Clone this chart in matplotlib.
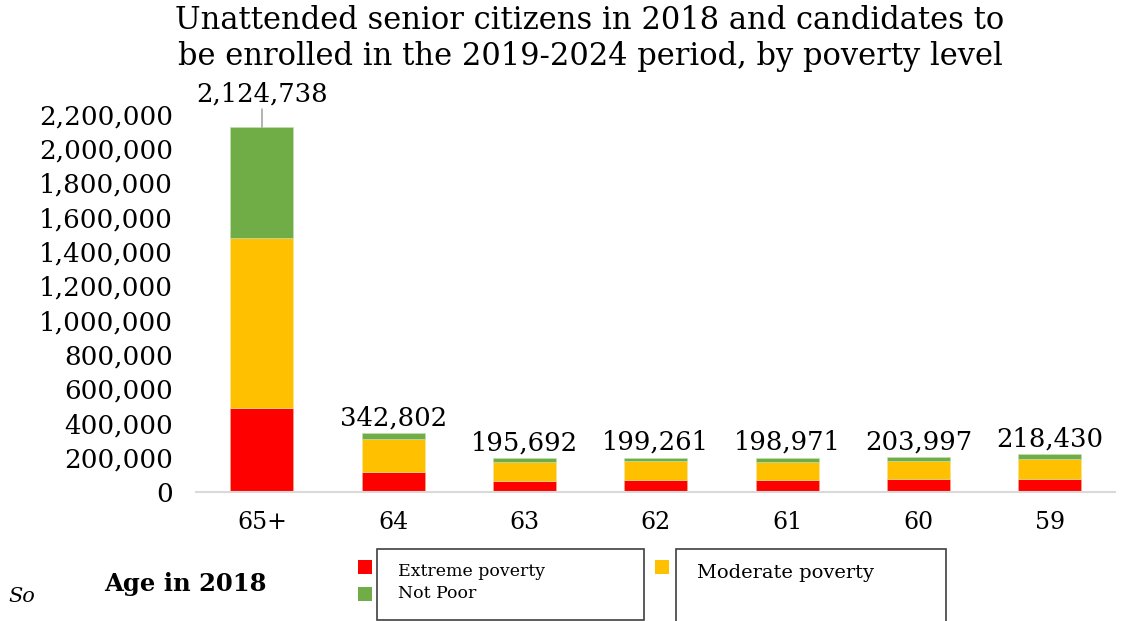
import numpy as np
import matplotlib.pyplot as plt
from matplotlib.patches import Rectangle

# values
ages = ['65+', '64', '63', '62', '61', '60', '59']
extreme = [489000, 116000, 66000, 68000, 67000, 72000, 76000]
moderate = [989000, 191000, 107000, 110000, 109000, 109000, 117000]
not_poor = [646738, 35802, 22692, 21261, 22971, 22997, 25430]
totals = [2124738, 342802, 195692, 199261, 198971, 203997, 218430]

plt.rcParams['font.family'] = 'DejaVu Serif'

fig = plt.figure(figsize=(11.22, 6.21), dpi=100)
ax = fig.add_axes([0.175, 0.208, 0.819, 0.608])

x = np.arange(len(ages))
w = 0.48
ext = np.array(extreme)
mod = np.array(moderate)
npo = np.array(not_poor)
ax.bar(x, ext, w, color='#FF0000', edgecolor='#f4b183', linewidth=0.4)
ax.bar(x, mod, w, bottom=ext, color='#FFC000', edgecolor='#f4e3a0', linewidth=0.4)
ax.bar(x, npo, w, bottom=ext + mod, color='#70AD47', edgecolor='#c5e0b4', linewidth=0.4)

ax.set_xlim(-0.5, len(ages) - 0.5)
ax.set_ylim(0, 2200000)
ax.set_yticks(np.arange(0, 2200001, 200000))
ax.yaxis.set_major_formatter(plt.FuncFormatter(lambda v, p: f'{int(v):,}'))
ax.set_xticks(x)
ax.set_xticklabels(ages)
ax.tick_params(axis='x', length=0, labelsize=17, pad=14)
ax.tick_params(axis='y', length=0, labelsize=18.8, pad=17)
for s in ['top', 'right', 'left']:
    ax.spines[s].set_visible(False)
ax.spines['bottom'].set_color('#d9d9d9')
ax.spines['bottom'].set_linewidth(1.5)

# data labels
for i, t in enumerate(totals):
    if i == 0:
        ax.annotate(f'{t:,}', xy=(i, t), xytext=(0, 15), textcoords='offset points',
                    ha='center', va='bottom', fontsize=18.6, annotation_clip=False,
                    arrowprops=dict(arrowstyle='-', color='#a6a6a6', lw=1.2, shrinkA=0, shrinkB=0))
    else:
        ax.annotate(f'{t:,}', xy=(i, t), xytext=(0, 2), textcoords='offset points',
                    ha='center', va='bottom', fontsize=18.6, annotation_clip=False)

fig.text(590 / 1122, 1 - 5 / 621, 'Unattended senior citizens in 2018 and candidates to\n'
         'be enrolled in the 2019-2024 period, by poverty level',
         ha='center', va='top', fontsize=22, linespacing=1.22)

# bottom area: source stub, axis title and legend boxes
fig.text(8 / 1122, 1 - 597 / 621, 'So', fontsize=15, style='italic', va='center')
fig.text(104 / 1122, 1 - 584 / 621, 'Age in 2018', fontsize=17.5, weight='bold', va='center')

H, W = 621, 1122
def box(x0, y0, x1, y1):
    fig.patches.append(Rectangle((x0 / W, 1 - y1 / H), (x1 - x0) / W, (y1 - y0) / H,
                                 transform=fig.transFigure, facecolor='white',
                                 edgecolor='#404040', lw=1.2))

def square(x0, y0, color):
    fig.patches.append(Rectangle((x0 / W, 1 - (y0 + 14) / H), 14 / W, 14 / H,
                                 transform=fig.transFigure, facecolor=color, edgecolor='none'))

square(358, 560, '#FF0000')
square(358, 587, '#70AD47')
square(655, 560, '#FFC000')
box(377, 549, 644, 620)
box(676, 549, 946, 640)
fig.text(398 / W, 1 - 572 / H, 'Extreme poverty', fontsize=12.5, va='center')
fig.text(398 / W, 1 - 594 / H, 'Not Poor', fontsize=12.5, va='center')
fig.text(697 / W, 1 - 573 / H, 'Moderate poverty', fontsize=14, va='center')

fig.savefig('out.png', dpi=100)
